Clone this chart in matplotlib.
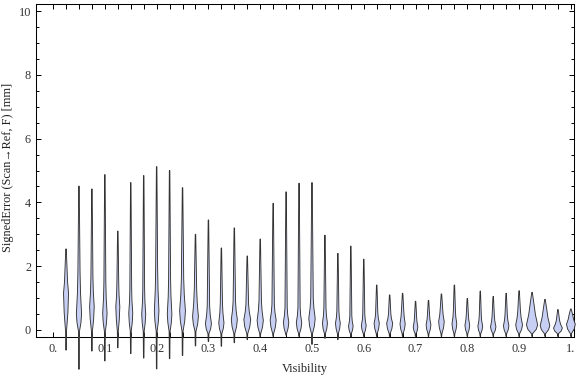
import matplotlib
matplotlib.use("Agg")
import matplotlib.pyplot as plt
import numpy as np

plt.rcParams['font.family'] = ['Liberation Serif', 'DejaVu Serif']

# visibility bins (chart categories)
vis = [0.025, 0.05, 0.075, 0.1, 0.125, 0.15, 0.175, 0.2, 0.225, 0.25,
       0.275, 0.3, 0.325, 0.35, 0.375, 0.4, 0.425, 0.45, 0.475, 0.5,
       0.525, 0.55, 0.575, 0.6, 0.625, 0.65, 0.675, 0.7, 0.725, 0.75,
       0.775, 0.8, 0.825, 0.85, 0.875, 0.9, 0.925, 0.95, 0.975, 1.0]

# max / min of the signed error in each bin [mm]
err_max = [2.54, 4.51, 4.42, 4.87, 3.10, 4.62, 4.84, 5.12, 5.00, 4.46,
           3.00, 3.45, 2.57, 3.20, 2.32, 2.85, 3.97, 4.33, 4.60, 4.62,
           2.97, 2.40, 2.63, 2.22, 1.41, 1.10, 1.15, 0.90, 0.93, 1.13,
           1.41, 0.99, 1.22, 1.05, 1.15, 1.23, 1.18, 0.96, 0.64, 0.66]
err_min = [-0.63, -1.23, -0.66, -0.97, -0.56, -0.74, -0.88, -1.22, -0.90, -0.80,
           -0.50, -0.36, -0.51, -0.40, -0.30, -0.22, -0.20, -0.16, -0.20, -0.45,
           -0.26, -0.30, -0.22, -0.20, -0.20, -0.20, -0.20, -0.20, -0.20, -0.20,
           -0.20, -0.20, -0.20, -0.20, -0.20, -0.20, -0.20, -0.20, -0.20, -0.20]

# density shape: mode, bottom/top of the main bulge, bulge half width (px)
mode = [1.15, 0.50, 0.73, 0.52, 0.73, 0.52, 0.50, 0.60, 0.50, 0.60,
        0.42, 0.20, 0.22, 0.33, 0.33, 0.30, 0.31, 0.24, 0.23, 0.36,
        0.21, 0.21, 0.12, 0.14, 0.21, 0.21, 0.19, 0.09, 0.16, 0.26,
        0.20, 0.15, 0.12, 0.10, 0.13, 0.16, 0.16, 0.14, 0.06, 0.18]
bulge_lo = [-0.05] * 11 + [-0.12] * 29
bulge_hi = [1.90, 1.80, 1.70, 1.50, 1.50, 1.30, 1.30, 1.90, 1.60, 1.60,
            1.30, 0.75, 0.85, 0.90, 0.80, 0.90, 0.80, 0.70, 0.70, 1.00,
            0.70, 0.60, 0.45, 0.50, 0.55, 0.50, 0.65, 0.45, 0.50, 0.70,
            0.60, 0.50, 0.45, 0.45, 0.50, 0.60, 0.80, 0.65, 0.30, 0.50]
half_w = [2.5, 2.6, 2.3, 2.2, 2.0, 2.0, 2.0, 2.3, 2.3, 2.9,
          2.9, 3.0, 2.6, 3.0, 3.4, 3.1, 3.0, 2.7, 2.7, 3.2,
          2.5, 2.4, 2.3, 2.4, 2.6, 3.0, 2.6, 2.3, 2.4, 2.8,
          2.4, 2.4, 2.4, 2.7, 2.7, 3.4, 5.6, 4.8, 4.4, 4.4]

fill_col = '#c7cff4'
edge_col = '#333333'

fig = plt.figure(figsize=(5.76, 3.77), dpi=100)
ax = fig.add_axes([36/576, 40/377, 538/576, 333/377])
ax.set_xlim(-0.033, 1.006)
ax.set_ylim(-0.22, 10.22)

# one screen pixel in x data units
px = (1.006 + 0.033) / 538.0

for i in range(len(vis)):
    x0 = vis[i]
    w = half_w[i]
    ys = [err_min[i], bulge_lo[i], (bulge_lo[i] + mode[i]) / 2, mode[i],
          (mode[i] + bulge_hi[i]) / 2, bulge_hi[i], err_max[i]]
    ws = [0.25, 0.45, 0.75 * w, w, 0.6 * w, 0.3 * w + 0.3, 0.25]
    ws = np.array(ws) * px
    xs = np.concatenate([x0 - ws, (x0 + ws)[::-1]])
    yy = np.concatenate([ys, ys[::-1]])
    ax.fill(xs, yy, facecolor=fill_col, edgecolor=edge_col, lw=0.65,
            clip_on=False, zorder=3)

# ticks
ax.set_xticks(np.round(np.arange(0, 1.01, 0.1), 1))
ax.set_xticklabels(['0.', '0.1', '0.2', '0.3', '0.4', '0.5', '0.6', '0.7',
                    '0.8', '0.9', '1.'])
ax.set_xticks(vis, minor=True)
ax.set_yticks([0, 2, 4, 6, 8, 10])
ax.set_yticks(np.arange(0, 10.01, 0.5), minor=True)
ax.tick_params(which='both', direction='in', top=True, right=True,
               labelsize=8.8, labelcolor='#333333', width=0.7)
ax.tick_params(axis='x', which='both', length=3.6, pad=4.0)
ax.tick_params(axis='y', which='major', length=3.6, pad=3.6)
ax.tick_params(axis='y', which='minor', length=2.2)
for s in ax.spines.values():
    s.set_linewidth(0.75)

ax.set_xlabel('Visibility', fontsize=8.8, color='#222222')
ax.xaxis.set_label_coords(0.5, -0.078)
ax.xaxis.label.set_va('top')
fig.text(8/576, 1 - 167/377, 'SignedError (Scan\u2192Ref, F) [mm]',
         rotation=90, va='center', ha='center', fontsize=8.8, color='#222222')

fig.savefig('out.png', dpi=100)
